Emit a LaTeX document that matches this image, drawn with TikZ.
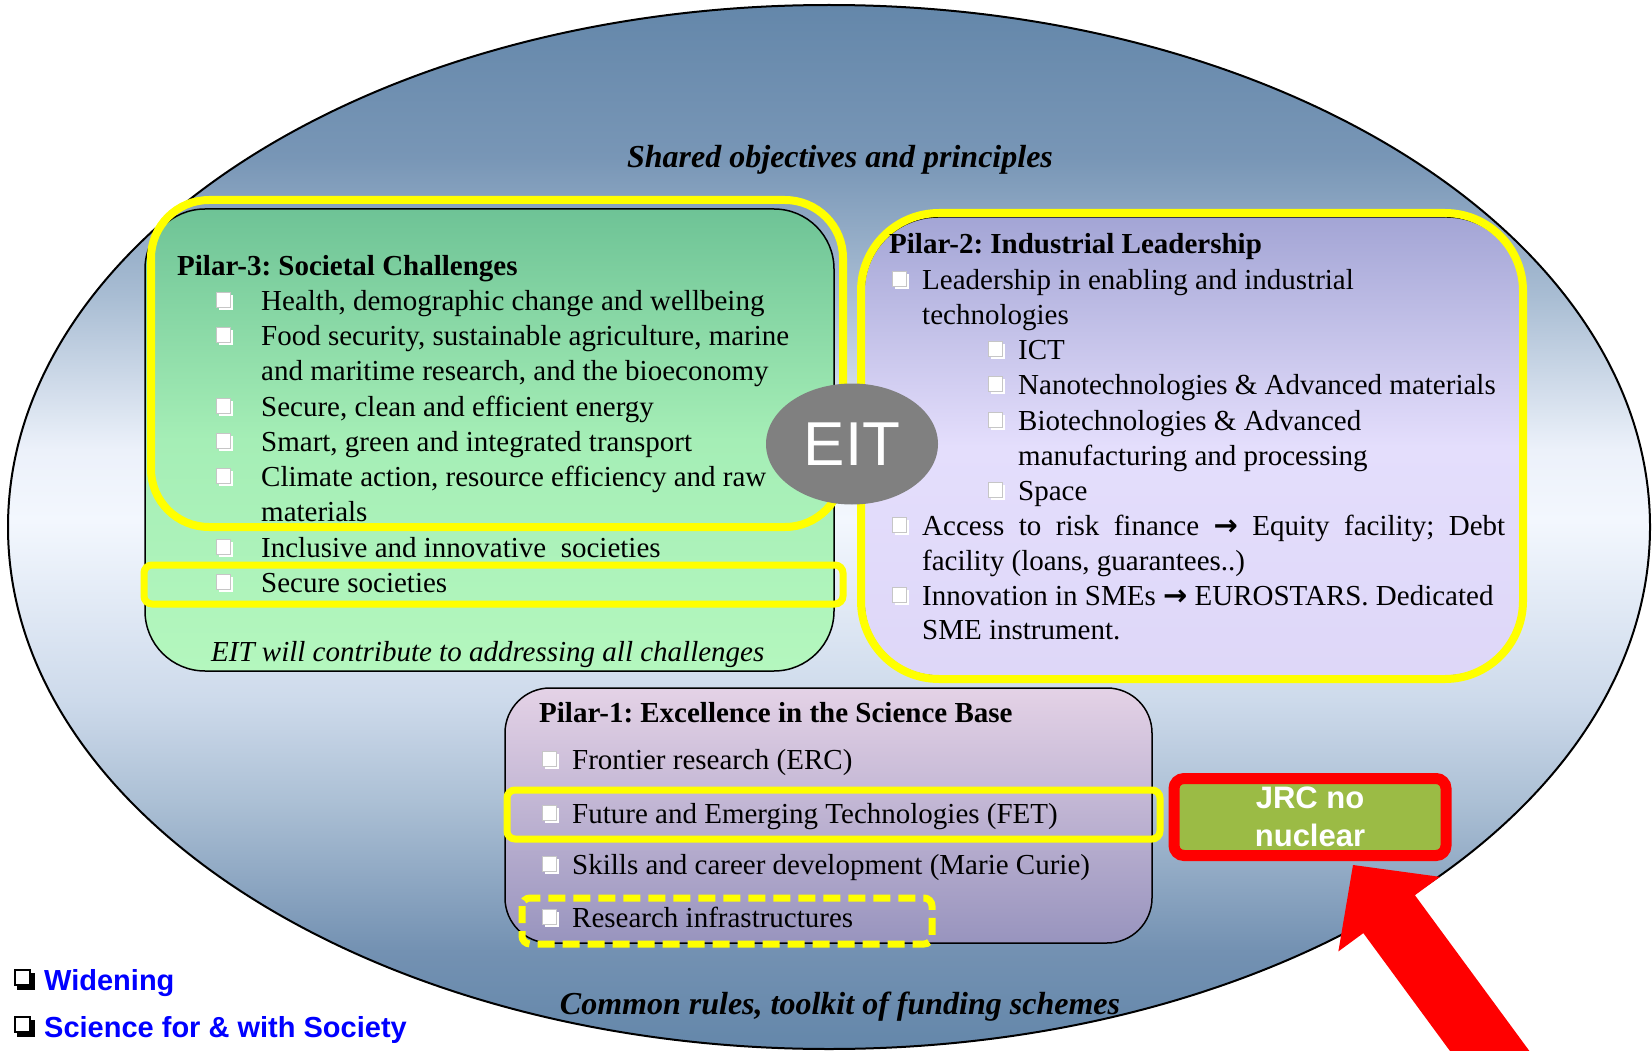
\documentclass[tikz,border=0pt]{standalone}
\usepackage{fontspec}
\setmainfont{Liberation Serif}
\newfontfamily\arialf{Liberation Sans}
\newfontfamily\djv{DejaVu Sans}
\usetikzlibrary{arrows.meta,calc,shapes.geometric}
\definecolor{ellblue}{RGB}{100,135,170}
\definecolor{ellA}{RGB}{115,145,178}
\definecolor{ellB}{RGB}{172,192,213}
\definecolor{ellC}{RGB}{205,218,235}
\definecolor{elllight}{RGB}{243,247,254}
\definecolor{ellD}{RGB}{236,241,250}
\definecolor{ellE}{RGB}{170,190,212}
\definecolor{ellF}{RGB}{120,150,182}
\definecolor{gtop}{RGB}{110,195,150}
\definecolor{gmid}{RGB}{165,238,182}
\definecolor{gbot}{RGB}{180,247,190}
\definecolor{ptop}{RGB}{163,165,213}
\definecolor{pmid}{RGB}{228,222,252}
\definecolor{pbot}{RGB}{222,215,248}
\definecolor{otop}{RGB}{228,210,230}
\definecolor{obot}{RGB}{152,148,190}
\definecolor{hiyellow}{RGB}{255,255,0}
\definecolor{eitgray}{RGB}{128,128,128}
\definecolor{jrcgreen}{RGB}{155,187,69}
\definecolor{arrowred}{RGB}{255,0,0}
\definecolor{linkblue}{RGB}{0,0,255}
\pgfdeclareverticalshading{ellshade}{100bp}{color(0bp)=(ellblue); color(25bp)=(ellblue); color(29.7bp)=(ellA); color(36.9bp)=(ellB); color(41.7bp)=(ellC); color(50.3bp)=(elllight); color(53.7bp)=(ellD); color(60.9bp)=(ellE); color(67.7bp)=(ellF); color(75bp)=(ellblue); color(100bp)=(ellblue)}
\newcommand\fbody{\fontsize{29}{35}\selectfont}
\newcommand\fhead{\fontsize{32}{38}\selectfont\bfseries\itshape}
\newcommand\rarr{{\djv\bfseries →}}
\frenchspacing
\tikzset{
  txt/.style={anchor=base west, inner sep=0pt, font=\fbody},
  hd/.style={anchor=base west, inner sep=0pt, font=\fbody\bfseries},
  hiline/.style={draw=hiyellow, line width=8pt},
  wbul/.pic={
    \fill[white] (3,-15) rectangle (17,0);
    \fill[white] (0,-18) rectangle (14,-3);
    \draw[gray!45, line width=0.8pt] (0,-18) rectangle (14,-3);
  },
  kbul/.pic={
    \fill[black] (3,-17) rectangle (21,0);
    \fill[white] (0,-21) rectangle (17,-4);
    \draw[black, line width=1.6pt] (0.8,-20.2) rectangle (16.2,-4.8);
  }
}
\begin{document}
\begin{tikzpicture}[x=1pt,y=-1pt]
\useasboundingbox (0,0) rectangle (1652,1051);
\clip (0,0) rectangle (1652,1051);
\fill[white] (0,0) rectangle (1652,1051);

% big ellipse
\draw[line width=2pt, shading=ellshade]
  (829,527) ellipse [x radius=821, y radius=522];

% Pilar-3 box
\draw[line width=1.5pt, top color=gtop, bottom color=gbot, middle color=gmid, rounded corners=60pt]
  (145,209) rectangle (834,671);
\draw[hiline, rounded corners=58pt] (151,200) rectangle (843,527);
\draw[hiline, line width=7pt, rounded corners=8pt] (144,565) rectangle (843,604);

% Pilar-2 box
\draw[line width=1.5pt, top color=ptop, bottom color=pbot, middle color=pmid, rounded corners=74pt]
  (864,217) rectangle (1521,676);
\draw[hiline, rounded corners=78pt] (861,213) rectangle (1523,679);

% Pilar-1 box
\draw[line width=1.5pt, top color=otop, bottom color=obot, rounded corners=45pt]
  (505,688) rectangle (1152,943);
\draw[hiline, line width=7pt, rounded corners=8pt] (507,790) rectangle (1160,839);
\draw[hiline, line width=7pt, rounded corners=8pt, dash pattern=on 17pt off 8pt] (522,898) rectangle (932,944);

% headings of the ellipse
\node[anchor=base, inner sep=0pt, font=\fhead] (shared) at (840,168) {Shared objectives and principles};
\node[anchor=base, inner sep=0pt, font=\fhead] (common) at (840,1014) {Common rules, toolkit of funding schemes};

% Pilar-3 text
\node[hd] (p3h) at (177,275) {Pilar-3: Societal Challenges};
\node[txt] (p3a) at (261,310) {Health, demographic change and wellbeing};
\node[txt] (p3b) at (261,345) {Food security, sustainable agriculture, marine};
\node[txt] (p3b2) at (261,380) {and maritime research, and the bioeconomy};
\node[txt] (p3c) at (261,416) {Secure, clean and efficient energy};
\node[txt] (p3d) at (261,451) {Smart, green and integrated transport};
\node[txt] (p3e) at (261,486) {Climate action, resource efficiency and raw};
\node[txt] (p3e2) at (261,521) {materials};
\node[txt] (p3f) at (261,557) {Inclusive and innovative\ \ societies};
\node[txt] (p3g) at (261,592) {Secure societies};
\node[txt, font=\fbody\itshape] (p3eit) at (211,661) {EIT will contribute to addressing all challenges};
\foreach \yy in {310,345,416,451,486,557,592} { \pic at (216,\yy) {wbul}; }

% Pilar-2 text
\node[hd] (p2h) at (889,254) {Pilar-2: Industrial Leadership};
\node[txt] (p2a) at (922,289) {Leadership in enabling and industrial};
\node[txt] (p2a2) at (922,324) {technologies};
\node[txt] (p2s1) at (1018,359) {ICT};
\node[txt] (p2s2) at (1018,394) {Nanotechnologies \& Advanced materials};
\node[txt] (p2s3) at (1018,430) {Biotechnologies \& Advanced};
\node[txt] (p2s3b) at (1018,465) {manufacturing and processing};
\node[txt] (p2s4) at (1018,500) {Space};
\node[txt] (p2b) at (922,535) {\makebox[583pt][s]{Access to risk finance \rarr{} Equity facility; Debt}};
\node[txt] (p2b2) at (922,570) {facility (loans, guarantees..)};
\node[txt] (p2c) at (922,605) {Innovation in SMEs \rarr{} EUROSTARS. Dedicated};
\node[txt] (p2c2) at (922,639) {SME instrument.};
\foreach \yy in {289,535,605} { \pic at (892,\yy) {wbul}; }
\foreach \yy in {359,394,430,500} { \pic at (988,\yy) {wbul}; }

% Pilar-1 text
\node[hd] (p1h) at (539,722) {Pilar-1: Excellence in the Science Base};
\node[txt] (p1a) at (572,769) {Frontier research (ERC)};
\node[txt] (p1b) at (572,823) {Future and Emerging Technologies (FET)};
\node[txt] (p1c) at (572,874) {Skills and career development (Marie Curie)};
\node[txt] (p1d) at (572,927) {Research infrastructures};
\foreach \yy in {769,823,874,927} { \pic at (542,\yy) {wbul}; }

% EIT
\node[ellipse, fill=eitgray, minimum width=172pt, minimum height=121pt, inner sep=0pt,
      font=\arialf\fontsize{62}{62}\selectfont, text=white] (eit) at (852,444) {EIT};

% bottom-left items
\pic at (14,990) {kbul};
\pic at (14,1037) {kbul};
\node[txt, font=\arialf\bfseries\fontsize{29}{35}\selectfont, text=linkblue] (wid) at (44,990) {Widening};
\node[txt, font=\arialf\bfseries\fontsize{29}{35}\selectfont, text=linkblue] (sws) at (44,1037) {Science for \& with Society};

% JRC box
\node[draw=arrowred, line width=11pt, fill=jrcgreen, rounded corners=10pt,
      minimum width=272pt, minimum height=77pt, inner sep=0pt, align=center,
      font=\arialf\bfseries\fontsize{31}{38}\selectfont, text=white] (jrc) at (1310,817) {JRC no\\nuclear};

% red arrow
\coordinate (tip) at ($(jrc.south)+(43,4)$);
\coordinate (tail) at (1511,1080);
\coordinate (hb) at ($(tip)!61pt!(tail)$);
\coordinate (hl) at ($(hb)!63pt!90:(tail)$);
\coordinate (hr) at ($(hb)!63pt!-90:(tail)$);
\coordinate (sl) at ($(hb)!32pt!90:(tail)$);
\coordinate (sr) at ($(hb)!32pt!-90:(tail)$);
\coordinate (tl) at ($(sl)+(tail)-(hb)$);
\coordinate (tr) at ($(sr)+(tail)-(hb)$);
\fill[arrowred] (tip) -- (hl) -- (sl) -- (tl) -- (tr) -- (sr) -- (hr) -- cycle;
\end{tikzpicture}
\end{document}
